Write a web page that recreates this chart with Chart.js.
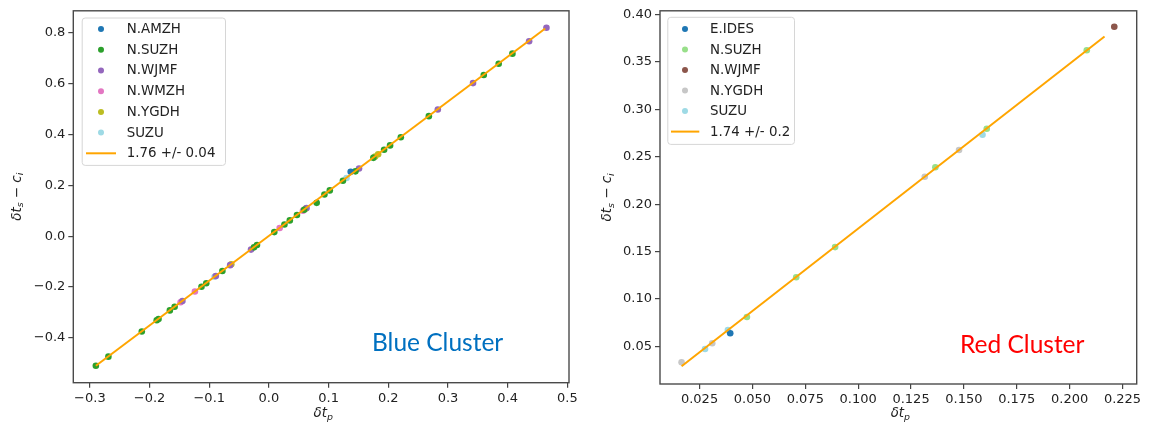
<!DOCTYPE html>
<html>
<head>
<meta charset="utf-8">
<script src="https://cdn.jsdelivr.net/npm/chart.js@4.4.1/dist/chart.umd.min.js"></script>
<style>
  html, body { margin: 0; padding: 0; background: #fff; }
  #wrap { position: relative; width: 1171px; height: 427px; overflow: hidden; }
  .panel { position: absolute; top: 0; height: 427px; }
  #p-azul { left: 0; width: 600px; }
  #p-rojo { left: 600px; width: 571px; }
  .etiqueta { position: absolute; font-family: Lato, 'Open Sans', sans-serif; font-size: 24.5px; white-space: nowrap; }
</style>
</head>
<body>
<div id="wrap">
  <div class="panel" id="p-azul"><canvas id="chart-azul"></canvas></div>
  <div class="panel" id="p-rojo"><canvas id="chart-rojo"></canvas></div>
  <div class="etiqueta" style="left:372px;top:327px;color:#0070c0">Blue Cluster</div>
  <div class="etiqueta" style="left:960px;top:329px;color:#ff0000">Red Cluster</div>
</div>
<script>
// Dos diagramas de dispersión (δt_p vs δt_s − c_i) con recta de ajuste.

// ---- Blue cluster ----
var azulEstaciones = ['N.AMZH', 'N.SUZH', 'N.WJMF', 'N.WMZH', 'N.YGDH', 'SUZU'];
var azulColores = ['#1f77b4', '#2ca02c', '#9467bd', '#e377c2', '#bcbd22', '#9edae5'];
var azulAMZH = [[0.137, 0.253]];
var azulSUZH = [
  [0.408, 0.718], [0.385, 0.678], [0.360, 0.634], [0.268, 0.472], [0.221, 0.389],
  [0.203, 0.357], [0.193, 0.340], [0.175, 0.308], [0.145, 0.255], [0.124, 0.218],
  [0.102, 0.180], [0.093, 0.164], [0.080, 0.131], [0.059, 0.104], [0.047, 0.083],
  [0.035, 0.062], [0.026, 0.046], [0.009, 0.016], [-0.020, -0.035], [-0.025, -0.044],
  [-0.078, -0.137], [-0.105, -0.185], [-0.113, -0.199], [-0.158, -0.278], [-0.166, -0.292],
  [-0.185, -0.326], [-0.188, -0.331], [-0.213, -0.375], [-0.269, -0.474], [-0.290, -0.510]
];
var azulWJMF = [
  [0.465, 0.820], [0.436, 0.767], [0.342, 0.602], [0.283, 0.498], [0.151, 0.266],
  [0.063, 0.111], [-0.030, -0.053], [-0.065, -0.114], [-0.089, -0.157], [-0.145, -0.255]
];
var azulWMZH = [[0.018, 0.032], [0.057, 0.100], [-0.124, -0.218], [-0.148, -0.260]];
var azulYGDH = [[0.178, 0.313], [0.183, 0.322], [0.062, 0.109], [-0.063, -0.111]];
var azulSUZU = [[0.130, 0.229], [0.176, 0.310], [-0.091, -0.160]];
var azulAjusteX = [-0.290, 0.463];
var azulAjusteY = [-0.510, 0.817];
var azulAjusteEtiqueta = '1.76 +/- 0.04';
var azulTicksX = [-0.3, -0.2, -0.1, 0.0, 0.1, 0.2, 0.3, 0.4, 0.5];
var azulTicksY = [-0.4, -0.2, 0.0, 0.2, 0.4, 0.6, 0.8];

// ---- Red cluster ----
var rojoEstaciones = ['E.IDES', 'N.SUZH', 'N.WJMF', 'N.YGDH', 'SUZU'];
var rojoColores = ['#1f77b4', '#98df8a', '#8c564b', '#c7c7c7', '#9edae5'];
var rojoIDES = [[0.0395, 0.0637]];
var rojoSUZH = [[0.2081, 0.3624], [0.1608, 0.2796], [0.1365, 0.2389], [0.0891, 0.1547], [0.0707, 0.1229], [0.0474, 0.0809]];
var rojoWJMF = [[0.2211, 0.3873]];
var rojoYGDH = [[0.1477, 0.2571], [0.1315, 0.2289], [0.0310, 0.0532], [0.0165, 0.0331]];
var rojoSUZU = [[0.1588, 0.2733], [0.0384, 0.0672], [0.0276, 0.0471]];
var rojoAjusteX = [0.0165, 0.2165];
var rojoAjusteY = [0.0290, 0.3770];
var rojoAjusteEtiqueta = '1.74 +/- 0.2';
var rojoTicksX = [0.025, 0.050, 0.075, 0.100, 0.125, 0.150, 0.175, 0.200, 0.225];
var rojoTicksY = [0.05, 0.10, 0.15, 0.20, 0.25, 0.30, 0.35, 0.40];

// Títulos de eje (texto matemático: base, subíndice)
var tituloX = [{ t: '\u03b4t' }, { t: 'p', sub: true }];
var tituloY = [{ t: '\u03b4t' }, { t: 's', sub: true }, { t: ' \u2212 ', recto: true }, { t: 'c' }, { t: 'i', sub: true }];

var NARANJA = '#ffa500';
var TINTA = '#222222';
var FUENTE = "'DejaVu Sans', sans-serif";

function puntos(pares) {
  return pares.map(function (p) { return { x: p[0], y: p[1] }; });
}

function fmtTick(dec) {
  return function (v) {
    var s = Math.abs(v).toFixed(dec);
    return (v < -1e-9 ? '\u2212' : '') + s;
  };
}

function fuenteParte(p) {
  return (p.recto ? '' : 'italic ') + (p.sub ? '9.4px ' : '13.4px ') + FUENTE;
}

// Dibuja un texto con subíndices centrado en (cx, cy), girado rot
function dibujarMat(ctx, partes, cx, cy, rot) {
  ctx.save();
  ctx.translate(cx, cy);
  ctx.rotate(rot);
  var ancho = 0;
  var anchos = partes.map(function (p) {
    ctx.font = fuenteParte(p);
    var w = ctx.measureText(p.t).width;
    ancho += w;
    return w;
  });
  var x = -ancho / 2;
  ctx.fillStyle = TINTA;
  ctx.textBaseline = 'alphabetic';
  partes.forEach(function (p, i) {
    ctx.font = fuenteParte(p);
    ctx.fillText(p.t, x, p.sub ? 7.5 : 5);
    x += anchos[i];
  });
  ctx.restore();
}

var titulosMat = {
  id: 'titulosMat',
  afterDraw: function (chart, args, o) {
    var a = chart.chartArea;
    dibujarMat(chart.ctx, tituloX, (a.left + a.right) / 2 + 2, o.xCentroY, 0);
    dibujarMat(chart.ctx, tituloY, o.yCentroX, (a.top + a.bottom) / 2, -Math.PI / 2);
  }
};

// Marco completo alrededor del área de trazado (estilo matplotlib)
var marco = {
  id: 'marco',
  afterDraw: function (chart) {
    var a = chart.chartArea, ctx = chart.ctx;
    ctx.save();
    ctx.strokeStyle = '#4a4a4a';
    ctx.lineWidth = 1.4;
    ctx.strokeRect(a.left, a.top, a.right - a.left, a.bottom - a.top);
    ctx.restore();
  }
};

// Leyenda dibujada dentro del área de trazado
var leyendaInterna = {
  id: 'leyendaInterna',
  afterDatasetsDraw: function (chart, args, o) {
    var ctx = chart.ctx, a = chart.chartArea;
    var ds = chart.data.datasets;
    var x0 = a.left + o.dx, y0 = a.top + o.dy;
    var alto = o.primera * 2 + (ds.length - 1) * o.fila;
    ctx.save();
    ctx.beginPath();
    ctx.roundRect(x0 + 0.5, y0 + 0.5, o.ancho, alto, 3);
    ctx.fillStyle = 'rgba(255,255,255,0.85)';
    ctx.fill();
    ctx.strokeStyle = '#d6d6d6';
    ctx.lineWidth = 1;
    ctx.stroke();
    ctx.font = '13.4px ' + FUENTE;
    ctx.textBaseline = 'middle';
    ds.forEach(function (d, i) {
      var y = y0 + o.primera + i * o.fila;
      if (d.showLine) {
        ctx.beginPath();
        ctx.moveTo(x0 + o.linea[0], y);
        ctx.lineTo(x0 + o.linea[1], y);
        ctx.strokeStyle = d.borderColor;
        ctx.lineWidth = 2;
        ctx.stroke();
      } else {
        ctx.beginPath();
        ctx.arc(x0 + o.marca, y, 3, 0, Math.PI * 2);
        ctx.fillStyle = d.backgroundColor;
        ctx.fill();
      }
      ctx.fillStyle = TINTA;
      ctx.fillText(d.label, x0 + o.texto, y + 0.5);
    });
    ctx.restore();
  }
};

function eje(min, max, ticks, dec, tamano, horizontal) {
  return {
    type: 'linear',
    min: min,
    max: max,
    afterBuildTicks: function (s) { s.ticks = ticks.map(function (v) { return { value: v }; }); },
    afterFit: function (s) { if (horizontal) { s.height = tamano; } else { s.width = tamano; } },
    grid: { drawOnChartArea: false, drawTicks: true, tickLength: 5, color: '#444', lineWidth: 1.2 },
    border: { display: false },
    ticks: { color: TINTA, padding: 3, maxRotation: 0, autoSkip: false, font: { family: FUENTE, size: 13 }, callback: fmtTick(dec) },
    title: { display: false }
  };
}

function crearGrafico(canvasId, nombres, colores, series, ajX, ajY, ajEtiqueta, escalas, relleno, leyenda, titulos) {
  var datasets = series.map(function (s, i) {
    return {
      label: nombres[i],
      data: puntos(s),
      backgroundColor: colores[i],
      borderColor: colores[i],
      pointRadius: 3.3,
      pointHoverRadius: 3.3,
      pointBorderWidth: 0,
      showLine: false,
      order: 1
    };
  });
  datasets.push({
    label: ajEtiqueta,
    data: [{ x: ajX[0], y: ajY[0] }, { x: ajX[1], y: ajY[1] }],
    showLine: true,
    borderColor: NARANJA,
    backgroundColor: NARANJA,
    borderWidth: 2,
    pointRadius: 0,
    order: 0
  });
  var ctx = document.getElementById(canvasId).getContext('2d');
  return new Chart(ctx, {
    type: 'scatter',
    data: { datasets: datasets },
    options: {
      responsive: true,
      maintainAspectRatio: false,
      animation: false,
      layout: { padding: relleno },
      plugins: {
        legend: { display: false },
        tooltip: { enabled: false },
        leyendaInterna: leyenda,
        titulosMat: titulos
      },
      scales: escalas
    },
    plugins: [marco, leyendaInterna, titulosMat]
  });
}

crearGrafico('chart-azul', azulEstaciones, azulColores,
  [azulAMZH, azulSUZH, azulWJMF, azulWMZH, azulYGDH, azulSUZU],
  azulAjusteX, azulAjusteY, azulAjusteEtiqueta,
  {
    x: eje(-0.3278, 0.5028, azulTicksX, 1, 44.3, true),
    y: eje(-0.5765, 0.8865, azulTicksY, 1, 73.3, false)
  },
  { left: 0, top: 9, right: 31, bottom: 0 },
  { dx: 8.4, dy: 6.7, ancho: 143.3, primera: 11.6, fila: 20.7, marca: 19.3, texto: 45, linea: [4.3, 34.3] },
  { xCentroY: 412, yCentroX: 15.5 }
);

crearGrafico('chart-rojo', rojoEstaciones, rojoColores,
  [rojoIDES, rojoSUZH, rojoWJMF, rojoYGDH, rojoSUZU],
  rojoAjusteX, rojoAjusteY, rojoAjusteEtiqueta,
  {
    x: eje(0.0063, 0.2317, rojoTicksX, 3, 43, true),
    y: eje(0.0102, 0.4041, rojoTicksY, 2, 60, false)
  },
  { left: 0, top: 10.7, right: 34.3, bottom: 0 },
  { dx: 7.3, dy: 6, ancho: 126.7, primera: 12.3, fila: 20.5, marca: 17.7, texto: 42.7, linea: [3.7, 32] },
  { xCentroY: 412, yCentroX: 6 }
);
</script>
</body>
</html>
